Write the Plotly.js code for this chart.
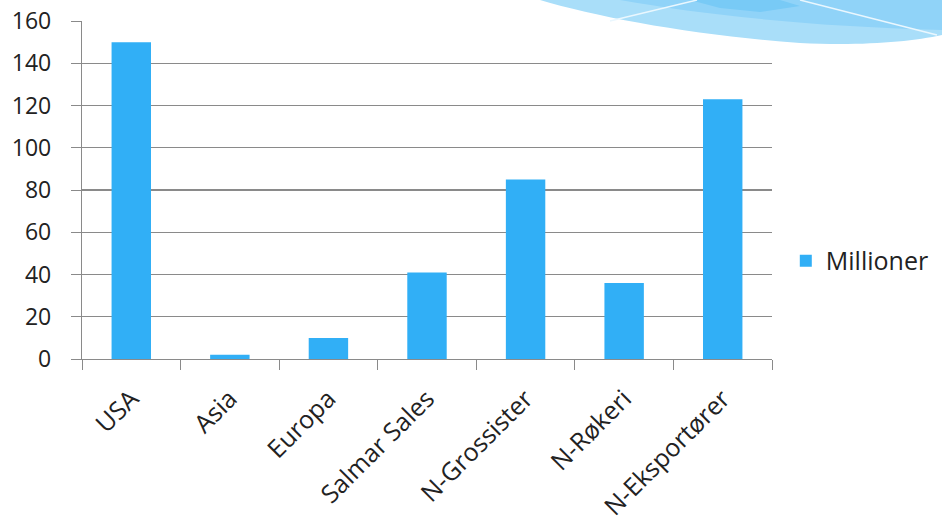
<!DOCTYPE html>
<html>
<head>
<meta charset="utf-8">
<script src="https://cdn.plot.ly/plotly-3.0.1.min.js"></script>
<style>
html,body{margin:0;padding:0;background:#fff;}
#chart{width:942px;height:523px;}
</style>
</head>
<body>
<div id="chart"></div>
<script>
const categories = ["USA", "Asia", "Europa", "Salmar Sales", "N-Grossister", "N-Røkeri", "N-Eksportører"];
const millioner = [150, 2, 10, 41, 85, 36, 123];
const seriesName = "Millioner";
const yTicks = [0, 20, 40, 60, 80, 100, 120, 140, 160];

const W = 942, H = 523;
const M = {l: 82, r: 170, t: 21, b: 164, autoexpand: false};
const pw = W - M.l - M.r, ph = H - M.t - M.b;
function px(x){ return ((x - M.l) / pw).toFixed(4); }
function py(y){ return ((H - M.b - y) / ph).toFixed(4); }
function P(pts){ return pts.map((p,i)=> (i===0?'M':'L') + px(p[0]) + ',' + py(p[1])).join(' ') + ' Z'; }
function C(start, segs, close){
  let s = 'M' + px(start[0]) + ',' + py(start[1]);
  segs.forEach(sg => {
    s += ' C' + sg.map(p => px(p[0]) + ',' + py(p[1])).join(' ');
  });
  return s + (close ? ' ' + close.map(p=>'L'+px(p[0])+','+py(p[1])).join(' ') + ' Z' : '');
}

const shapes = [
  {type:'path', xref:'paper', yref:'paper', layer:'below', line:{width:0},
   fillcolor:'#A9DEF9',
   path: C([540,0], [[[600,18],[700,36],[800,43]], [[860,46],[910,42],[942,35]]], [[942,0]])},
  {type:'path', xref:'paper', yref:'paper', layer:'below', line:{width:0},
   fillcolor:'#90D3F8',
   path: C([620,0], [[[700,14],[800,26],[942,30]]], [[942,0]])},
  {type:'path', xref:'paper', yref:'paper', layer:'below', line:{width:0},
   fillcolor:'#78CAF6',
   path: P([[690,0],[780,0],[800,6],[760,12],[720,8]])},
  {type:'line', xref:'paper', yref:'paper', layer:'below', line:{color:'#EAF7FE', width:1.5},
   x0:px(610), y0:py(21), x1:px(697), y1:py(0)},
  {type:'line', xref:'paper', yref:'paper', layer:'below', line:{color:'#EAF7FE', width:1.5},
   x0:px(800), y0:py(0), x1:px(937), y1:py(35)}
];

const data = [{
  type:'bar', x:categories, y:millioner, name:seriesName,
  marker:{color:'#31AFF6', line:{width:0}},
  width:0.4, showlegend:true
}];

const layout = {
  width:W, height:H, margin:M,
  paper_bgcolor:'rgba(0,0,0,0)', plot_bgcolor:'rgba(0,0,0,0)',
  font:{family:'"Open Sans", "Noto Sans", sans-serif', size:22, color:'#222'},
  bargap:0.6,
  xaxis:{
    type:'category', tickangle:-45, showgrid:false, zeroline:false,
    showline:true, linecolor:'#8a8a8a', linewidth:1.2,
    ticks:'outside', ticklen:10, tickcolor:'#8a8a8a', tickson:'boundaries',
    tickfont:{size:25, color:'#222'}, range:[-0.5, 6.5], fixedrange:true,
    ticklabelstandoff:14
  },
  yaxis:{
    range:[0,160], tickvals:yTicks, ticks:'outside', ticklen:10, tickcolor:'#8a8a8a',
    showgrid:true, gridcolor:'#8a8a8a', gridwidth:1.2, zeroline:false,
    showline:true, linecolor:'#8a8a8a', linewidth:1.2,
    tickfont:{size:23, color:'#222'}, ticklabelstandoff:15
  },
  legend:{x:1.02, y:0.29, xanchor:'left', yanchor:'middle', font:{size:25, color:'#222'},
          bgcolor:'rgba(0,0,0,0)', itemwidth:30},
  shapes:shapes
};

Plotly.newPlot('chart', data, layout, {displayModeBar:false, staticPlot:true});
</script>
</body>
</html>
